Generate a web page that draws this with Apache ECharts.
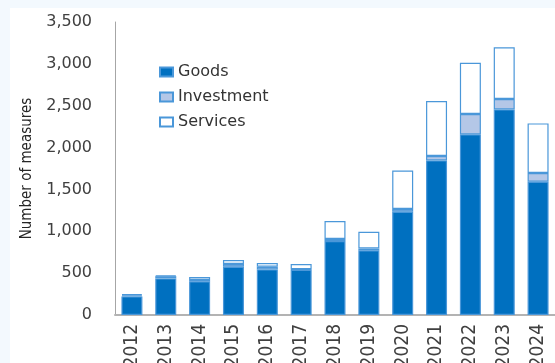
<!DOCTYPE html>
<html>
<head>
<meta charset="utf-8">
<script src="https://cdn.jsdelivr.net/npm/echarts@6/dist/echarts.min.js"></script>
<style>
  html, body { margin: 0; padding: 0; background: #f3f9fe; }
  #chart { position: absolute; left: 10px; top: 8px; width: 545px; height: 355px; background: #ffffff; }
</style>
</head>
<body>
<div id="chart"></div>
<script>
// Trade measures per year, split by type
const years = ['2012','2013','2014','2015','2016','2017','2018','2019','2020','2021','2022','2023','2024'];
const goods      = [222, 437, 402, 577, 545, 541, 884, 772, 1234, 1847, 2158, 2456, 1592];
const investment = [14, 27, 16, 32, 32, 5, 24, 24, 32, 52, 243, 124, 104];
const services   = [14, 10, 36, 48, 44, 63, 215, 199, 461, 658, 613, 617, 593];
const yTicks = { min: 0, max: 3500, step: 500 };

const narrow = "'Liberation Sans Narrow', 'DejaVu Sans Condensed', 'Arial Narrow', sans-serif";

const chart = echarts.init(document.getElementById('chart'));

const edge = '#4a97d9';
function barSeries(name, data, fill) {
  return {
    name: name,
    type: 'bar',
    stack: 'total',
    data: data,
    barWidth: 21,
    itemStyle: { color: fill, borderColor: edge, borderWidth: 1.2 }
  };
}

chart.setOption({
  animation: false,
  grid: { left: 105, right: 0, top: 14, bottom: 48, outerBoundsMode: 'none', containLabel: false },
  legend: {
    orient: 'vertical',
    left: 144,
    top: 51,
    itemWidth: 13,
    itemHeight: 9,
    itemGap: 9,
    icon: 'rect',
    textStyle: { fontFamily: 'DejaVu Sans', fontSize: 16, color: '#333333' },
    data: ['Goods', 'Investment', 'Services']
  },
  xAxis: {
    type: 'category',
    data: years,
    axisLine: { lineStyle: { color: '#b3b3b3', width: 2 } },
    axisTick: { show: false },
    axisLabel: {
      rotate: 90,
      margin: 9,
      interval: 0,
      fontFamily: narrow,
      fontSize: 19,
      color: '#404040'
    }
  },
  yAxis: {
    type: 'value',
    min: yTicks.min,
    max: yTicks.max,
    interval: yTicks.step,
    name: 'Number of measures',
    nameLocation: 'middle',
    nameGap: 80,
    nameTextStyle: { fontFamily: narrow, fontSize: 15, color: '#262626' },
    axisLine: { show: true, lineStyle: { color: '#a6a6a6', width: 1 } },
    axisTick: { show: false },
    splitLine: { show: false },
    axisLabel: {
      margin: 23,
      fontFamily: 'DejaVu Sans',
      fontSize: 16,
      color: '#404040',
      formatter: v => v.toLocaleString('en-US')
    }
  },
  series: [
    barSeries('Goods', goods, '#0070c0'),
    barSeries('Investment', investment, '#b4c7e7'),
    barSeries('Services', services, '#ffffff')
  ]
});
</script>
</body>
</html>
